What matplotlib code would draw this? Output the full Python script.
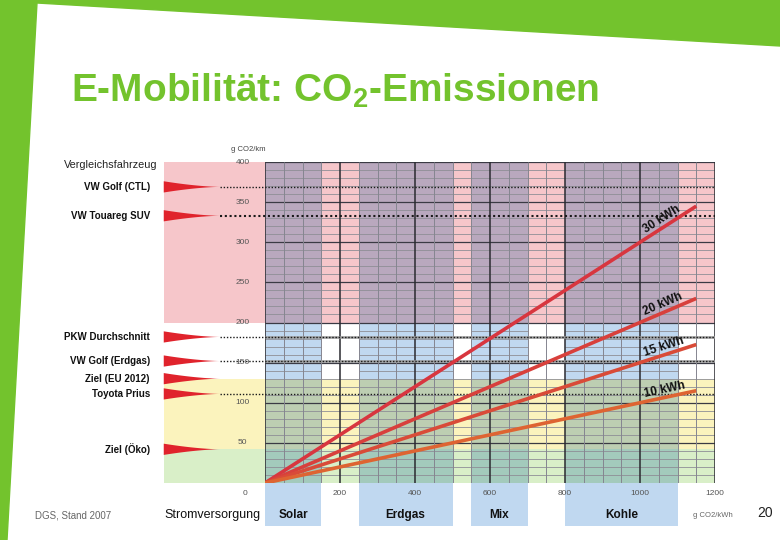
import numpy as np
import matplotlib
matplotlib.use('Agg')
import matplotlib.pyplot as plt
from matplotlib.patches import Polygon, Rectangle
from matplotlib.colors import to_rgb

# g CO2/km of an e-car for different power sources (x: g CO2/kWh)
kwh_labels = ['30 kWh', '20 kWh', '15 kWh', '10 kWh']
line_end_x = 1150
line_end_y = [345, 230, 172.5, 115]
line_colors = ['#d8363f', '#d8403c', '#d94b38', '#de6432']

cars = ['VW Golf (CTL)', 'VW Touareg SUV', 'PKW Durchschnitt', 'VW Golf (Erdgas)',
        'Ziel (EU 2012)', 'Toyota Prius', 'Ziel (Öko)']
car_co2 = [369, 333, 182, 152, 130, 111, 42]
car_dotted = [True, True, True, True, False, True, False]

sources = ['Solar', 'Erdgas', 'Mix', 'Kohle']
source_from = [0, 250, 550, 800]
source_to = [150, 500, 700, 1100]

zone_from = [0, 42, 130, 200]
zone_to = [42, 130, 200, 400]
zone_colors = ['#d9efc8', '#fbf3bd', '#ffffff', '#f6c6ca']
blue = '#c0d8f0'

x_ticks = [200, 400, 600, 800, 1000, 1200]
y_ticks = [50, 100, 150, 200, 250, 300, 350, 400]

plt.rcParams['mathtext.fontset'] = 'custom'
plt.rcParams['mathtext.rm'] = 'Liberation Sans:bold'
plt.rcParams['mathtext.it'] = 'Liberation Sans:bold'
plt.rcParams['mathtext.bf'] = 'Liberation Sans:bold'

W, H = 780, 540
fig = plt.figure(figsize=(W / 100, H / 100), dpi=100)
fig.patch.set_facecolor('white')

# green slide decoration
deco = Polygon([(0, 1), (1, 1), (1, 1 - 46 / H), (37 / W, 1 - 3 / H), (7 / W, 0), (0, 0)],
               closed=True, transform=fig.transFigure, color='#73c32d', zorder=0)
fig.add_artist(deco)

fig.text(71 / W, 1 - 102 / H, 'E-Mobilität: CO$_2$-Emissionen', fontsize=28,
         fontweight='bold', color='#73c32d', family='Liberation Sans', va='baseline')

ax = fig.add_axes([265 / W, 57 / H, 450 / W, 321 / H])
ax.set_xlim(0, 1200)
ax.set_ylim(0, 400)
ax.axis('off')

x_left = -270
tip_x = -120
label_x = -307

def mult(c1, c2):
    a, b = to_rgb(c1), to_rgb(c2)
    return tuple(p * q for p, q in zip(a, b))

# horizontal zones (extend to the left of the plot)
for y0, y1, c in zip(zone_from, zone_to, zone_colors):
    ax.add_patch(Rectangle((x_left, y0), 1200 - x_left, y1 - y0, facecolor=c,
                           edgecolor='none', clip_on=False, zorder=0))

# power source columns
for name, x0, x1 in zip(sources, source_from, source_to):
    for y0, y1, c in zip(zone_from, zone_to, zone_colors):
        ax.add_patch(Rectangle((x0, y0), x1 - x0, y1 - y0, facecolor=mult(blue, c),
                               edgecolor='none', zorder=1))
    ax.add_patch(Rectangle((x0, -54), x1 - x0, 54, facecolor=blue, edgecolor='none',
                           clip_on=False, zorder=1))
    ax.text((x0 + x1) / 2, -40, name, ha='center', va='center', fontsize=8.5,
            fontweight='bold', family='Liberation Sans', color='#111')

# grid
for y in range(10, 400, 10):
    if y % 50 == 0:
        continue
    if 130 < y < 200:
        for x0, x1 in zip(source_from, source_to):
            ax.hlines(y, x0, x1, color='#8e8e96', lw=0.6, zorder=2)
    else:
        ax.hlines(y, 0, 1200, color='#8e8e96', lw=0.6, zorder=2)
for y in y_ticks:
    ax.hlines(y, 0, 1200, color='#3a3a44', lw=0.9, zorder=2)
for x in range(50, 1200, 50):
    if x % 200:
        ax.vlines(x, 0, 400, color='#858590', lw=0.7, zorder=2)
for x in [0] + x_ticks:
    ax.vlines(x, 0, 400, color='#2a2a30', lw=1.1, zorder=3)

# reference cars: red wedge + dotted line
t = np.linspace(0, 1, 30)
for name, v, dotted in zip(cars, car_co2, car_dotted):
    half = 7 * (1 - t) ** 1.6
    xs = x_left + t * (tip_x - x_left)
    pts = list(zip(xs, v + half)) + list(zip(xs[::-1], (v - half)[::-1]))
    ax.add_patch(Polygon(pts, closed=True, facecolor='#e0232c', edgecolor='none',
                         clip_on=False, zorder=4))
    if dotted:
        if 130 < v < 200:
            ax.hlines(v, 0, 1200, color='#9a9a9a', lw=1.8, zorder=3)
        ax.hlines(v, tip_x, 1200, color='#1a1a1a', lw=1.0 if v != 333 else 1.5,
                  linestyles=(0, (1, 1.3)), clip_on=False, zorder=4)
    ax.text(label_x, v, name, ha='right', va='center', fontsize=7, fontweight='bold',
            family='Liberation Sans', color='#111')

ax.text(-288, 396, 'Vergleichsfahrzeug', ha='right', va='center', fontsize=7.8,
        family='Liberation Sans', color='#222')

# e-car lines
for lab, ye, c in zip(kwh_labels, line_end_y, line_colors):
    ax.plot([0, line_end_x], [0, ye], color=c, lw=2.6, solid_capstyle='butt', zorder=6)
    ang = np.degrees(np.arctan2(ye, line_end_x))
    xl = 1068
    ax.text(xl, ye / line_end_x * xl + 2, lab, ha='center', va='bottom', rotation=ang,
            rotation_mode='anchor', transform_rotates_text=True, fontsize=8.5,
            fontweight='bold', family='Liberation Sans', color='#111', zorder=7)

# axis labels
for v in y_ticks:
    ax.text(-59, v, str(v), ha='center', va='center', fontsize=6, color='#555',
            family='Liberation Sans', clip_on=False)
for v in x_ticks:
    ax.text(v, -12.5, str(v), ha='center', va='center', fontsize=6, color='#555',
            family='Liberation Sans', clip_on=False)
ax.text(-53, -12.5, '0', ha='center', va='center', fontsize=6, color='#555',
        family='Liberation Sans')
ax.text(-45, 415, 'g CO2/km', ha='center', va='center', fontsize=5.5, color='#444',
        family='Liberation Sans')
ax.text(1195, -40, 'g CO2/kWh', ha='center', va='center', fontsize=5.5, color='#666',
        family='Liberation Sans')
ax.text(-139, -40, 'Stromversorgung', ha='center', va='center', fontsize=9,
        family='Liberation Sans', color='#111')

fig.text(73 / W, 1 - 515 / H, 'DGS, Stand 2007', ha='center', va='center', fontsize=7,
         color='#666', family='Liberation Sans')
fig.text(765 / W, 1 - 513 / H, '20', ha='center', va='center', fontsize=10,
         color='#222', family='Liberation Sans')

fig.savefig('out.png', dpi=100)
